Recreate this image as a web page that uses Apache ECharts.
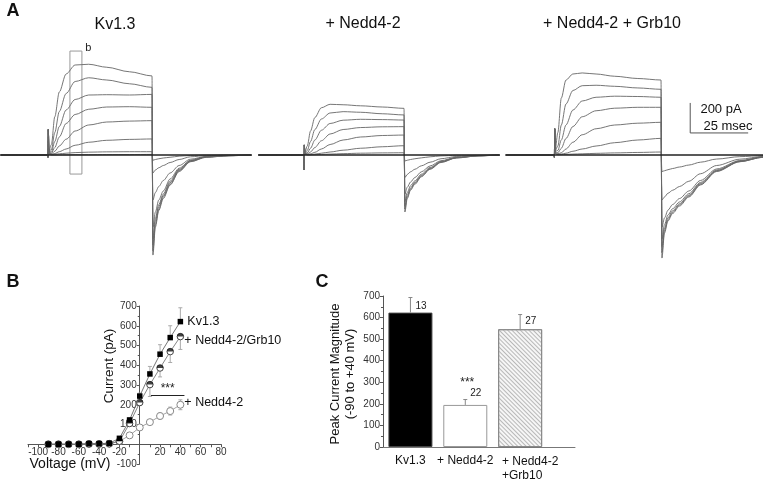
<!DOCTYPE html>
<html>
<head>
<meta charset="utf-8">
<script src="https://cdn.jsdelivr.net/npm/echarts@6/dist/echarts.min.js"></script>
<style>
  html, body { margin: 0; padding: 0; background: #fff; }
  #main { width: 763px; height: 482px; }
</style>
</head>
<body>
<div id="main"></div>
<script>
// ---- panel A: current traces (pA), time in ms ----
const ONSET = 20, END = 66;
const tPulse = [0, 0.15, 0.4, 1.5, 3, 5, 8, 12, 18, 26, 36, 46];
const tTail = [0.4, 1.5, 3, 5, 8, 12, 17, 24, 34, 44];

const kvPulse = [
  [-15, 170, 30, 70, 255, 420, 540, 600, 605, 585, 555, 527],
  [-15, 170, 30, 35, 150, 290, 410, 490, 515, 500, 475, 451],
  [-15, 170, 25, 20, 90, 190, 300, 370, 400, 402, 400, 404],
  [-15, 170, 20, 12, 50, 120, 210, 270, 305, 320, 322, 318],
  [-15, 170, 15, 8, 25, 60, 105, 160, 200, 220, 226, 229],
  [-15, 170, 10, 5, 10, 22, 40, 65, 85, 98, 104, 107],
  [-15, 170, 8, 3, 5, 8, 12, 16, 19, 21, 22, 22],
  [-15, 170, 5, 0, 0, 1, 1, 2, 2, 3, 3, 4]
];
const kvTail = [
  [-667, -480, -370, -290, -200, -110, -45, -15, -5, -1],
  [-640, -465, -360, -280, -195, -105, -43, -14, -5, -1],
  [-600, -440, -345, -270, -185, -100, -40, -13, -4, -1],
  [-560, -420, -330, -260, -175, -95, -38, -12, -4, -1],
  [-480, -380, -300, -240, -160, -88, -35, -11, -4, -1],
  [-300, -250, -210, -170, -120, -70, -28, -9, -3, -1],
  [-120, -100, -85, -70, -50, -30, -12, -4, -1, 0],
  [-35, -30, -25, -20, -15, -8, -3, -1, 0, 0]
];

const neddPulse = [
  [-100, 67, 20, 60, 160, 250, 315, 338, 335, 328, 320, 311],
  [-100, 67, 15, 30, 90, 170, 240, 280, 289, 285, 275, 267],
  [-100, 67, 12, 15, 45, 100, 165, 210, 232, 238, 236, 233],
  [-100, 67, 10, 8, 20, 50, 95, 140, 170, 183, 188, 189],
  [-100, 67, 8, 4, 8, 18, 40, 70, 100, 120, 130, 133],
  [-100, 67, 6, 2, 3, 6, 12, 20, 32, 45, 55, 62],
  [-100, 67, 4, 1, 1, 2, 4, 6, 9, 12, 14, 15]
];
const neddTail = [
  [-380, -290, -235, -195, -145, -95, -50, -20, -6, -1],
  [-360, -280, -228, -188, -140, -92, -48, -19, -6, -1],
  [-340, -268, -220, -182, -135, -88, -46, -18, -5, -1],
  [-310, -250, -205, -172, -128, -83, -43, -17, -5, -1],
  [-260, -215, -180, -150, -112, -73, -38, -15, -4, -1],
  [-150, -130, -112, -95, -72, -48, -25, -10, -3, 0],
  [-40, -35, -30, -25, -19, -12, -6, -2, -1, 0]
];

const grbPulse = [
  [-15, 175, 40, 150, 380, 500, 540, 547, 540, 525, 510, 500],
  [-15, 175, 30, 60, 200, 340, 430, 462, 465, 458, 447, 438],
  [-15, 175, 25, 30, 100, 200, 300, 360, 385, 392, 390, 385],
  [-15, 175, 20, 15, 45, 110, 190, 255, 295, 312, 318, 318],
  [-15, 175, 15, 8, 15, 40, 85, 135, 175, 200, 212, 218],
  [-15, 175, 10, 4, 6, 12, 25, 40, 60, 82, 100, 111],
  [-15, 175, 8, 2, 3, 4, 6, 8, 11, 14, 17, 20]
];
const grbTail = [
  [-687, -520, -440, -390, -340, -280, -200, -110, -45, -15],
  [-650, -505, -430, -382, -333, -274, -196, -107, -44, -15],
  [-610, -490, -418, -372, -325, -268, -190, -104, -42, -14],
  [-560, -465, -400, -358, -313, -258, -183, -100, -40, -13],
  [-480, -420, -368, -330, -290, -240, -170, -93, -37, -12],
  [-300, -280, -255, -235, -210, -175, -125, -70, -28, -9],
  [-110, -105, -98, -90, -80, -67, -48, -27, -11, -4]
];

// scale bar: 200 pA / 25 msec
const scaleBar = [[78.6, 347], [78.6, 147], [103.6, 147]];

// ---- panel B: I-V ----
const volts = [-90, -80, -70, -60, -50, -40, -30, -20, -10, 0, 10, 20, 30, 40];
const kvIV = [0, 0, 0, 0, 3, 3, 5, 30, 123, 244, 356, 456, 540, 621];
const grbIV = [0, 0, 0, 0, 2, 2, 3, 15, 105, 211, 302, 386, 469, 545];
const neddIV = [0, 0, 0, 0, 1, 1, 2, 15, 45, 85, 112, 143, 168, 200];
const kvErrUp = [0, 0, 0, 0, 0, 0, 0, 5, 10, 15, 38, 48, 60, 70];
const grbErrDown = [0, 0, 0, 0, 0, 0, 0, 5, 10, 15, 60, 45, 55, 65];
const neddErr = [0, 0, 0, 0, 0, 0, 0, 3, 5, 8, 10, 15, 20, 25];

// ---- panel C: peak current ----
const groups = ['Kv1.3', '+ Nedd4-2', '+ Nedd4-2\n+Grb10'];
const peak = [623, 195, 546];
const peakErr = [70, 25, 68];
const nCells = [13, 22, 27];

const FONT = 'Liberation Sans, Arial, sans-serif';
const chart = echarts.init(document.getElementById('main'));

// grids for the three trace panels
const traceGrids = [
  { onsetPx: 48, k: 104 / 46 },
  { onsetPx: 304, k: 100 / 46 },
  { onsetPx: 555, k: 108 / 46 }
];
const grid = traceGrids.map(g => ({
  left: g.onsetPx - (ONSET + 1) * g.k,
  width: 111 * g.k,
  top: 20,
  height: 270
}));
grid.push({ left: 28, top: 306, width: 193, height: 158 });   // B
grid.push({ left: 383, top: 296, width: 192, height: 154.7 }); // C

const xAxis = [0, 1, 2].map(i => ({ gridIndex: i, type: 'value', min: -1, max: 110, show: false }));
const yAxis = [0, 1, 2].map(i => ({ gridIndex: i, type: 'value', min: -900, max: 900, show: false }));

const axisGray = '#555';
// B axes cross at (0, 0): shift them into the grid
xAxis.push({
  gridIndex: 3, type: 'value', min: -110, max: 80, interval: 10,
  position: 'bottom', offset: -(158 * 100 / 800),
  axisLine: { onZero: false, lineStyle: { color: axisGray } },
  axisTick: { length: 3, lineStyle: { color: axisGray } },
  splitLine: { show: false },
  axisLabel: {
    fontSize: 10, color: '#333', margin: 3, fontFamily: FONT,
    formatter: v => (v % 20 === 0 && v !== 0 ? v : '')
  }
});
yAxis.push({
  gridIndex: 3, type: 'value', min: -100, max: 700, interval: 100,
  position: 'left', offset: -(193 * 110 / 190),
  axisLine: { show: true, onZero: false, lineStyle: { color: axisGray } },
  axisTick: { show: true, length: 3, lineStyle: { color: axisGray } },
  minorTick: { show: true, splitNumber: 2, length: 2, lineStyle: { color: axisGray } },
  splitLine: { show: false },
  axisLabel: {
    fontSize: 10, color: '#333', margin: 3, fontFamily: FONT,
    formatter: v => (v === 0 ? '' : v)
  }
});
xAxis.push({
  gridIndex: 4, type: 'value', min: 0, max: 3.5, interval: 0.5,
  axisLine: { lineStyle: { color: '#777' } },
  axisTick: { show: false },
  splitLine: { show: false },
  axisLabel: {
    color: '#111', margin: 8, fontFamily: FONT,
    formatter: v => {
      const i = Math.round(v - 0.5);
      if (Math.abs(v - 0.5 - i) > 1e-6 || !groups[i]) return '';
      const lines = groups[i].split('\n');
      const tag = lines.length > 1 ? 'w' : 'n';
      return lines.map(l => '{' + tag + '|' + l + '}').join('\n');
    },
    rich: {
      n: { fontSize: 12, fontFamily: FONT, color: '#111' },
      w: { fontSize: 12, fontFamily: FONT, color: '#111', lineHeight: 14, align: 'left', padding: [0, 0, 0, 20] }
    }
  }
});
yAxis.push({
  gridIndex: 4, type: 'value', min: 0, max: 700, interval: 100,
  axisLine: { show: true, lineStyle: { color: axisGray } },
  axisTick: { show: true, length: 3, lineStyle: { color: axisGray } },
  minorTick: { show: true, splitNumber: 2, length: 2, lineStyle: { color: axisGray } },
  splitLine: { show: false },
  axisLabel: { fontSize: 10, color: '#333', margin: 3, fontFamily: FONT }
});

const series = [];

function addTraces(gi, pulses, tails) {
  series.push({
    type: 'line', xAxisIndex: gi, yAxisIndex: gi, silent: true, symbol: 'none',
    data: [[-1, 0], [110, 0]],
    lineStyle: { color: '#222', width: 1.6 }, z: 3
  });
  pulses.forEach((p, s) => {
    const data = [[-1, 0], [ONSET, 0]];
    tPulse.forEach((t, j) => data.push([ONSET + t, p[j]]));
    tTail.forEach((t, j) => data.push([END + t, tails[s][j]]));
    data.push([110, 0]);
    series.push({
      type: 'line', xAxisIndex: gi, yAxisIndex: gi, silent: true, symbol: 'none',
      smooth: 0.3, smoothMonotone: 'x', data,
      lineStyle: { color: '#666', width: 0.9 }, z: 2
    });
  });
}
addTraces(0, kvPulse, kvTail);
addTraces(1, neddPulse, neddTail);
addTraces(2, grbPulse, grbTail);

// "b" box in Kv1.3 panel
series.push({
  type: 'line', xAxisIndex: 0, yAxisIndex: 0, data: [], silent: true,
  markArea: {
    silent: true,
    itemStyle: { color: 'rgba(0,0,0,0)', borderColor: '#999', borderWidth: 1 },
    label: { show: true, position: 'insideTopRight', formatter: 'b', offset: [14, -13],
      fontSize: 11, color: '#222', fontFamily: FONT },
    data: [[{ coord: [29.7, 693] }, { coord: [35.0, -127] }]]
  }
});
// scale bar
series.push({
  type: 'line', xAxisIndex: 2, yAxisIndex: 2, data: scaleBar, symbol: 'none', silent: true,
  lineStyle: { color: '#555', width: 1 }
});

// panel B
const ivData = arr => volts.map((v, i) => [v, arr[i]]);
function errSeries(lo, hi, color) {
  return {
    type: 'custom', xAxisIndex: 3, yAxisIndex: 3, silent: true, z: 1,
    data: volts.map((v, i) => [v, lo[i], hi[i]]),
    renderItem: (params, api) => {
      const a = api.coord([api.value(0), api.value(1)]);
      const b = api.coord([api.value(0), api.value(2)]);
      const st = { stroke: color, lineWidth: 1 };
      return { type: 'group', children: [
        { type: 'line', shape: { x1: a[0], y1: a[1], x2: b[0], y2: b[1] }, style: st },
        { type: 'line', shape: { x1: a[0] - 2, y1: a[1], x2: a[0] + 2, y2: a[1] }, style: st },
        { type: 'line', shape: { x1: b[0] - 2, y1: b[1], x2: b[0] + 2, y2: b[1] }, style: st }
      ] };
    }
  };
}
series.push(errSeries(kvIV, kvIV.map((v, i) => v + kvErrUp[i]), '#aaa'));
series.push(errSeries(grbIV.map((v, i) => v - grbErrDown[i]), grbIV, '#aaa'));
series.push(errSeries(neddIV.map((v, i) => v - neddErr[i]), neddIV.map((v, i) => v + neddErr[i]), '#aaa'));

const endLbl = (txt, off) => ({
  show: true, formatter: txt, offset: off, fontSize: 12.5, color: '#111',
  fontFamily: FONT, distance: 3
});
series.push({
  type: 'line', xAxisIndex: 3, yAxisIndex: 3, data: ivData(neddIV), silent: true,
  symbol: 'circle', symbolSize: 7,
  itemStyle: { color: '#fff', borderColor: '#888', borderWidth: 1 },
  lineStyle: { color: '#999', width: 0.9 }, z: 3,
  endLabel: endLbl('+ Nedd4-2', [1, -2]),
  markLine: {
    silent: true, symbol: 'none',
    lineStyle: { color: '#222', type: 'solid', width: 1.2 },
    label: { show: true, position: 'middle', formatter: '***', fontSize: 12,
      color: '#222', distance: 1, fontFamily: FONT },
    data: [[{ coord: [11, 246] }, { coord: [44, 246] }]]
  }
});
series.push({
  type: 'line', xAxisIndex: 3, yAxisIndex: 3, data: ivData(grbIV), silent: true,
  symbol: 'circle', symbolSize: 6.5,
  itemStyle: { color: '#fff', borderColor: '#444', borderWidth: 1 },
  lineStyle: { color: '#777', width: 0.9 }, z: 4,
  endLabel: endLbl('+ Nedd4-2/Grb10', [1, 4])
});
series.push({
  type: 'scatter', xAxisIndex: 3, yAxisIndex: 3, data: ivData(grbIV), silent: true,
  symbol: 'path://M0,10 A10,10 0 0 1 20,10 Z', symbolSize: [6.5, 3.25],
  symbolOffset: [0, '-50%'], itemStyle: { color: '#111' }, z: 5
});
series.push({
  type: 'line', xAxisIndex: 3, yAxisIndex: 3, data: ivData(kvIV), silent: true,
  symbol: 'rect', symbolSize: 5.5,
  itemStyle: { color: '#000' },
  lineStyle: { color: '#666', width: 0.9 }, z: 6,
  endLabel: endLbl('Kv1.3', [4, 0])
});

// panel C
const barStyles = [
  { color: '#000', borderColor: '#444', borderWidth: 1 },
  { color: '#fff', borderColor: '#999', borderWidth: 1 },
  { color: '#f6f6f6', borderColor: '#888', borderWidth: 1,
    decal: { symbol: 'rect', symbolSize: 1, dashArrayX: [1, 0], dashArrayY: [1, 1.5],
      rotation: Math.PI / 4, color: '#b8b8b8' } }
];
series.push({
  type: 'bar', xAxisIndex: 4, yAxisIndex: 4, barWidth: 44, silent: true,
  data: peak.map((v, i) => ({ value: [i + 0.5, v], itemStyle: barStyles[i] })),
  z: 2
});
const nLabelDy = [9, -6, 7];
series.push({
  type: 'custom', xAxisIndex: 4, yAxisIndex: 4, silent: true, z: 3,
  data: peak.map((v, i) => [i + 0.5, v, v + peakErr[i], nCells[i]]),
  renderItem: (params, api) => {
    const a = api.coord([api.value(0), api.value(1)]);
    const b = api.coord([api.value(0), api.value(2)]);
    const st = { stroke: '#888', lineWidth: 1 };
    const kids = [
      { type: 'line', shape: { x1: a[0], y1: a[1], x2: b[0], y2: b[1] }, style: st },
      { type: 'line', shape: { x1: b[0] - 2, y1: b[1], x2: b[0] + 2, y2: b[1] }, style: st },
      { type: 'text', x: b[0] + 5, y: b[1] + nLabelDy[params.dataIndex],
        style: { text: String(api.value(3)), fontSize: 10, fill: '#222', fontFamily: FONT,
          textVerticalAlign: 'middle' } }
    ];
    if (params.dataIndex === 1) {
      kids.push({ type: 'text', x: b[0] + 2, y: b[1] - 17,
        style: { text: '***', fontSize: 12, fill: '#222', fontFamily: FONT,
          textAlign: 'center', textVerticalAlign: 'middle' } });
    }
    return { type: 'group', children: kids };
  }
});

const txt = (text, x, y, opts, rot) => ({
  type: 'text', x, y, rotation: rot || 0,
  style: Object.assign({ text, fontFamily: FONT, fill: '#111', fontSize: 16,
    textAlign: 'center', textVerticalAlign: 'middle' }, opts || {})
});

chart.setOption({
  animation: false,
  textStyle: { fontFamily: FONT },
  grid, xAxis, yAxis, series,
  graphic: [
    txt('A', 13, 11, { fontSize: 18, fontWeight: 'bold' }),
    txt('B', 13, 282, { fontSize: 18, fontWeight: 'bold' }),
    txt('C', 322, 282, { fontSize: 18, fontWeight: 'bold' }),
    txt('Kv1.3', 115, 25),
    txt('+ Nedd4-2', 363, 24),
    txt('+ Nedd4-2 + Grb10', 612, 24),
    txt('200 pA', 721, 109, { fontSize: 13 }),
    txt('25 msec', 728, 126, { fontSize: 13 }),
    txt('Current (pA)', 109, 366, { fontSize: 13.5 }, Math.PI / 2),
    txt('Voltage (mV)', 70, 464, { fontSize: 14 }),
    txt('Peak Current Magnitude', 335, 374, { fontSize: 13 }, Math.PI / 2),
    txt('(-90 to +40 mV)', 350, 374, { fontSize: 13 }, Math.PI / 2)
  ]
});
</script>
</body>
</html>
